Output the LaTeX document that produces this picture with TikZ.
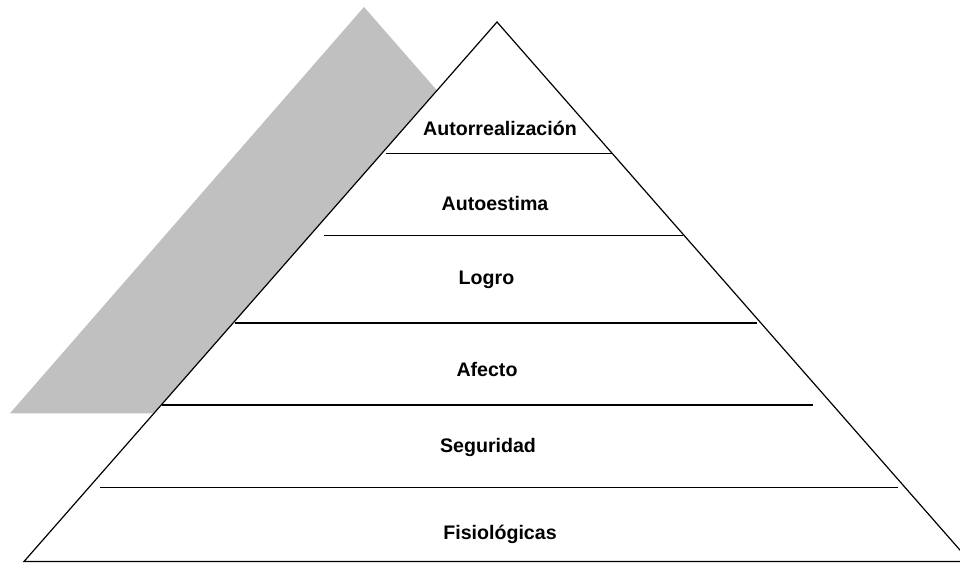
\documentclass[tikz,border=0pt]{standalone}
\usepackage{fontspec}
\setmainfont{Liberation Sans}
\begin{document}
\begin{tikzpicture}[x=1pt,y=-1pt,
  shadowband/.style={fill=shadegray,draw=none},
  pyramidline/.style={draw=black,line width=1.2pt},
  levellabel/.style={anchor=base,inner sep=0pt,font=\fontsize{19.6}{22}\selectfont\bfseries}]
\definecolor{shadegray}{RGB}{192,192,192}
\useasboundingbox (0,0) rectangle (960,563);
\clip (0,0) rectangle (960,563);
\fill[white] (0,0) rectangle (960,563);

% gray band behind the pyramid
\path[shadowband] (364,7) -- (10,413.3) -- (400,413.3) -- (489,150) -- cycle;

% pyramid outline
\coordinate (apex) at (497,22);
\coordinate (baseL) at (24,561.5);
\coordinate (baseR) at (970,561.5);
\path[pyramidline,fill=white,line join=miter] (apex) -- (baseL) -- (baseR) -- cycle;

% level dividers
\coordinate (d1a) at (386,153.5);   \coordinate (d1b) at (613,153.5);
\coordinate (d2a) at (324,235.3);   \coordinate (d2b) at (683,235.3);
\coordinate (d3a) at (235,323);     \coordinate (d3b) at (757,323);
\coordinate (d4a) at (161.7,405);   \coordinate (d4b) at (813,405);
\coordinate (d5a) at (100,487.5);   \coordinate (d5b) at (898,487.5);
\draw[pyramidline] (d1a) -- (d1b);
\draw[pyramidline] (d2a) -- (d2b);
\draw[pyramidline] (d3a) -- (d3b);
\draw[pyramidline] (d4a) -- (d4b);
\draw[pyramidline] (d5a) -- (d5b);

% level names
\node[levellabel] (autorrealizacion) at (500,135)   {Autorrealización};
\node[levellabel] (autoestima)       at (495,210)   {Autoestima};
\node[levellabel] (logro)            at (486.5,284.3) {Logro};
\node[levellabel] (afecto)           at (487,376.7) {Afecto};
\node[levellabel] (seguridad)        at (488,452.7) {Seguridad};
\node[levellabel] (fisiologicas)     at (500,539)   {Fisiológicas};
\end{tikzpicture}
\end{document}
